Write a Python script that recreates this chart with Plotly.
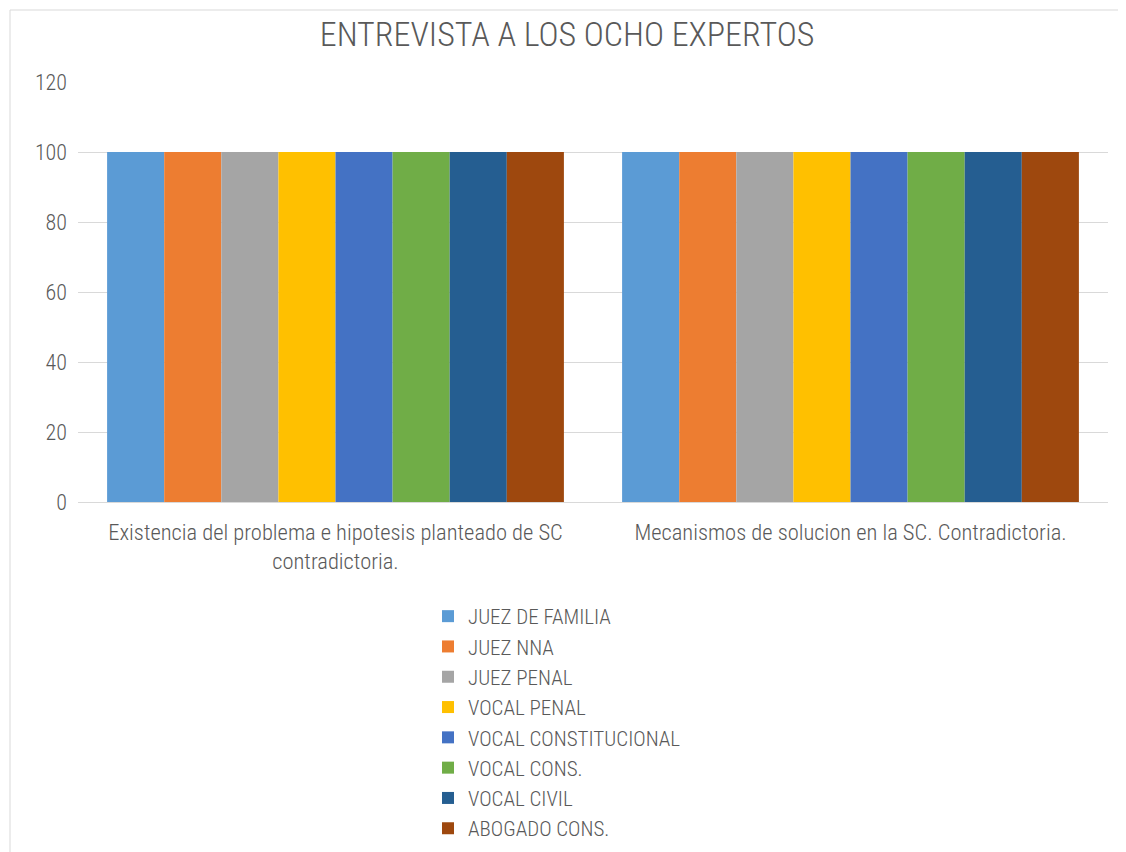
import plotly.graph_objects as go

categories = ["Existencia del problema e hipotesis planteado de SC<br>contradictoria.",
              "Mecanismos de solucion en la SC. Contradictoria."]
series_names = ["JUEZ DE FAMILIA", "JUEZ NNA", "JUEZ PENAL", "VOCAL PENAL",
                "VOCAL CONSTITUCIONAL", "VOCAL CONS.", "VOCAL CIVIL", "ABOGADO CONS."]
series_values = [[100, 100], [100, 100], [100, 100], [100, 100],
                 [100, 100], [100, 100], [100, 100], [100, 100]]
colors = ["#5B9BD5", "#ED7D31", "#A5A5A5", "#FFC000", "#4472C4", "#70AD47", "#255E91", "#9E480E"]
y_ticks = [0, 20, 40, 60, 80, 100, 120]

FONT = "Roboto Condensed, Liberation Sans, Arial"
TXT = "#595959"

fig = go.Figure()
for name, vals, c in zip(series_names, series_values, colors):
    fig.add_trace(go.Bar(x=categories, y=vals, name=name, marker=dict(color=c, line=dict(width=0))))

# page body has an 8px margin; figure coordinates below are page coords minus 8
W, H = 1118, 844
L, R, T, B = 70, 18, 74, 350
pw, ph = W - L - R, H - T - B

fig.update_layout(
    width=W, height=H,
    margin=dict(l=L, r=R, t=T, b=B, autoexpand=False),
    paper_bgcolor="white", plot_bgcolor="white",
    barmode="group", bargap=0.113, bargroupgap=0,
    title=dict(text="ENTREVISTA A LOS OCHO EXPERTOS", x=0.5, xanchor="center",
               y=1 - 26 / H, yanchor="middle",
               font=dict(family=FONT, size=34, weight=300, color=TXT)),
    font=dict(family=FONT, color=TXT, weight=300),
    xaxis=dict(showgrid=False, showline=True, linecolor="#D9D9D9", linewidth=1,
               tickfont=dict(family=FONT, size=22.5, weight=300, color=TXT), ticks="",
               ticklabelstandoff=10),
    yaxis=dict(range=[0, 120], tickvals=y_ticks, showgrid=True, gridcolor="#D9D9D9", gridwidth=1,
               zeroline=False, showline=False,
               tickfont=dict(family=FONT, size=22, weight=300, color=TXT),
               ticks="", ticklabelstandoff=10),
    legend=dict(orientation="v", x=(428 - 8 - L) / pw, xanchor="left",
                y=(H - B - (596 - 8)) / ph, yanchor="top",
                font=dict(family=FONT, size=21, weight=300, color=TXT), tracegroupgap=0,
                itemwidth=30),
    showlegend=True,
)
# chart-area border (top and left edges visible in the reference)
fig.add_shape(type="line", xref="paper", yref="paper",
              x0=(2 - L) / pw, x1=(W - L) / pw, y0=(H - B - 2) / ph, y1=(H - B - 2) / ph,
              line=dict(color="#D9D9D9", width=1), layer="below")
fig.add_shape(type="line", xref="paper", yref="paper",
              x0=(2 - L) / pw, x1=(2 - L) / pw, y0=(H - B - H) / ph, y1=(H - B - 2) / ph,
              line=dict(color="#D9D9D9", width=1), layer="below")

fig.write_html("out.html")
